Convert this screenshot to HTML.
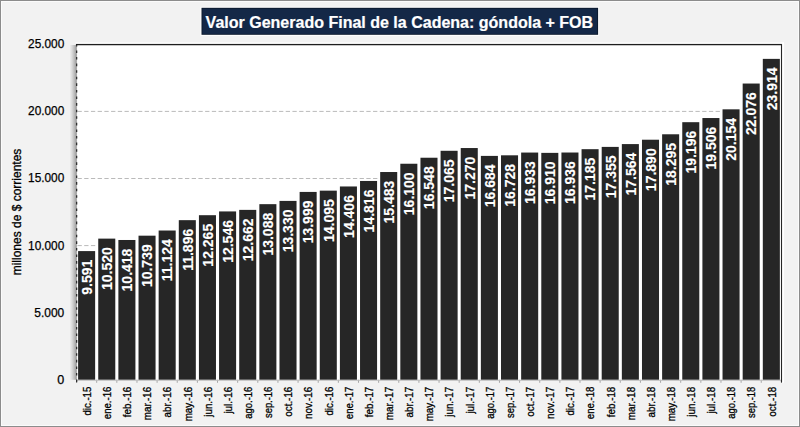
<!DOCTYPE html><html><head><meta charset="utf-8"><style>html,body{margin:0;padding:0;background:#f2f2f2;}svg{display:block}text{font-family:"Liberation Sans",sans-serif}</style></head><body>
<svg width="800" height="427" viewBox="0 0 800 427">
<defs><linearGradient id="sh" x1="0" x2="1" y1="0" y2="0"><stop offset="0" stop-color="#f2f2f2"/><stop offset="0.35" stop-color="#dadada"/><stop offset="0.7" stop-color="#bababa"/><stop offset="1" stop-color="#989898"/></linearGradient></defs>
<rect x="0" y="0" width="800" height="427" fill="#f2f2f2"/>
<rect x="0.5" y="0.5" width="799" height="426" fill="none" stroke="#8c8c8c" stroke-width="1"/>
<rect x="1.5" y="1.5" width="797" height="424" fill="none" stroke="#fbfbfb" stroke-width="1"/>
<rect x="69.55" y="45" width="7" height="334.80" fill="url(#sh)"/>
<rect x="76.55" y="44.30" width="704.85" height="335.50" fill="#ffffff"/>
<line x1="76.55" y1="312.70" x2="781.40" y2="312.70" stroke="#bababa" stroke-width="1" stroke-dasharray="4.3 2.417" stroke-dashoffset="5.767"/>
<line x1="76.55" y1="245.60" x2="781.40" y2="245.60" stroke="#bababa" stroke-width="1" stroke-dasharray="4.3 2.417" stroke-dashoffset="5.767"/>
<line x1="76.55" y1="178.50" x2="781.40" y2="178.50" stroke="#bababa" stroke-width="1" stroke-dasharray="4.3 2.417" stroke-dashoffset="5.767"/>
<line x1="76.55" y1="111.40" x2="781.40" y2="111.40" stroke="#bababa" stroke-width="1" stroke-dasharray="4.3 2.417" stroke-dashoffset="5.767"/>
<rect x="76.55" y="249.89" width="20.14" height="129.91" fill="#ffffff"/>
<rect x="96.69" y="237.42" width="20.14" height="142.38" fill="#ffffff"/>
<rect x="116.83" y="238.79" width="20.14" height="141.01" fill="#ffffff"/>
<rect x="136.97" y="234.48" width="20.14" height="145.32" fill="#ffffff"/>
<rect x="157.10" y="229.32" width="20.14" height="150.48" fill="#ffffff"/>
<rect x="177.24" y="218.96" width="20.14" height="160.84" fill="#ffffff"/>
<rect x="197.38" y="214.00" width="20.14" height="165.80" fill="#ffffff"/>
<rect x="217.52" y="210.23" width="20.14" height="169.57" fill="#ffffff"/>
<rect x="237.66" y="208.68" width="20.14" height="171.12" fill="#ffffff"/>
<rect x="257.80" y="202.96" width="20.14" height="176.84" fill="#ffffff"/>
<rect x="277.94" y="199.71" width="20.14" height="180.09" fill="#ffffff"/>
<rect x="298.07" y="190.73" width="20.14" height="189.07" fill="#ffffff"/>
<rect x="318.21" y="189.45" width="20.14" height="190.35" fill="#ffffff"/>
<rect x="338.35" y="185.27" width="20.14" height="194.53" fill="#ffffff"/>
<rect x="358.49" y="179.77" width="20.14" height="200.03" fill="#ffffff"/>
<rect x="378.63" y="170.82" width="20.14" height="208.98" fill="#ffffff"/>
<rect x="398.77" y="162.54" width="20.14" height="217.26" fill="#ffffff"/>
<rect x="418.91" y="156.53" width="20.14" height="223.27" fill="#ffffff"/>
<rect x="439.04" y="149.59" width="20.14" height="230.21" fill="#ffffff"/>
<rect x="459.18" y="146.84" width="20.14" height="232.96" fill="#ffffff"/>
<rect x="479.32" y="154.70" width="20.14" height="225.10" fill="#ffffff"/>
<rect x="499.46" y="154.11" width="20.14" height="225.69" fill="#ffffff"/>
<rect x="519.60" y="151.36" width="20.14" height="228.44" fill="#ffffff"/>
<rect x="539.74" y="151.67" width="20.14" height="228.13" fill="#ffffff"/>
<rect x="559.88" y="151.32" width="20.14" height="228.48" fill="#ffffff"/>
<rect x="580.01" y="147.98" width="20.14" height="231.82" fill="#ffffff"/>
<rect x="600.15" y="145.70" width="20.14" height="234.10" fill="#ffffff"/>
<rect x="620.29" y="142.89" width="20.14" height="236.91" fill="#ffffff"/>
<rect x="640.43" y="138.52" width="20.14" height="241.28" fill="#ffffff"/>
<rect x="660.57" y="133.08" width="20.14" height="246.72" fill="#ffffff"/>
<rect x="680.71" y="120.99" width="20.14" height="258.81" fill="#ffffff"/>
<rect x="700.85" y="116.83" width="20.14" height="262.97" fill="#ffffff"/>
<rect x="720.98" y="108.13" width="20.14" height="271.67" fill="#ffffff"/>
<rect x="741.12" y="82.34" width="20.14" height="297.46" fill="#ffffff"/>
<rect x="761.26" y="57.67" width="20.14" height="322.13" fill="#ffffff"/>
<rect x="78.10" y="251.09" width="17.04" height="128.71" fill="#262626"/>
<rect x="98.24" y="238.62" width="17.04" height="141.18" fill="#262626"/>
<rect x="118.38" y="239.99" width="17.04" height="139.81" fill="#262626"/>
<rect x="138.52" y="235.68" width="17.04" height="144.12" fill="#262626"/>
<rect x="158.65" y="230.52" width="17.04" height="149.28" fill="#262626"/>
<rect x="178.79" y="220.16" width="17.04" height="159.64" fill="#262626"/>
<rect x="198.93" y="215.20" width="17.04" height="164.60" fill="#262626"/>
<rect x="219.07" y="211.43" width="17.04" height="168.37" fill="#262626"/>
<rect x="239.21" y="209.88" width="17.04" height="169.92" fill="#262626"/>
<rect x="259.35" y="204.16" width="17.04" height="175.64" fill="#262626"/>
<rect x="279.49" y="200.91" width="17.04" height="178.89" fill="#262626"/>
<rect x="299.62" y="191.93" width="17.04" height="187.87" fill="#262626"/>
<rect x="319.76" y="190.65" width="17.04" height="189.15" fill="#262626"/>
<rect x="339.90" y="186.47" width="17.04" height="193.33" fill="#262626"/>
<rect x="360.04" y="180.97" width="17.04" height="198.83" fill="#262626"/>
<rect x="380.18" y="172.02" width="17.04" height="207.78" fill="#262626"/>
<rect x="400.32" y="163.74" width="17.04" height="216.06" fill="#262626"/>
<rect x="420.46" y="157.73" width="17.04" height="222.07" fill="#262626"/>
<rect x="440.59" y="150.79" width="17.04" height="229.01" fill="#262626"/>
<rect x="460.73" y="148.04" width="17.04" height="231.76" fill="#262626"/>
<rect x="480.87" y="155.90" width="17.04" height="223.90" fill="#262626"/>
<rect x="501.01" y="155.31" width="17.04" height="224.49" fill="#262626"/>
<rect x="521.15" y="152.56" width="17.04" height="227.24" fill="#262626"/>
<rect x="541.29" y="152.87" width="17.04" height="226.93" fill="#262626"/>
<rect x="561.43" y="152.52" width="17.04" height="227.28" fill="#262626"/>
<rect x="581.56" y="149.18" width="17.04" height="230.62" fill="#262626"/>
<rect x="601.70" y="146.90" width="17.04" height="232.90" fill="#262626"/>
<rect x="621.84" y="144.09" width="17.04" height="235.71" fill="#262626"/>
<rect x="641.98" y="139.72" width="17.04" height="240.08" fill="#262626"/>
<rect x="662.12" y="134.28" width="17.04" height="245.52" fill="#262626"/>
<rect x="682.26" y="122.19" width="17.04" height="257.61" fill="#262626"/>
<rect x="702.40" y="118.03" width="17.04" height="261.77" fill="#262626"/>
<rect x="722.53" y="109.33" width="17.04" height="270.47" fill="#262626"/>
<rect x="742.67" y="83.54" width="17.04" height="296.26" fill="#262626"/>
<rect x="762.81" y="58.87" width="17.04" height="320.93" fill="#262626"/>
<line x1="76.55" y1="379.80" x2="76.55" y2="382.80" stroke="#a6a6a6" stroke-width="1"/>
<line x1="96.69" y1="379.80" x2="96.69" y2="382.80" stroke="#a6a6a6" stroke-width="1"/>
<line x1="116.83" y1="379.80" x2="116.83" y2="382.80" stroke="#a6a6a6" stroke-width="1"/>
<line x1="136.97" y1="379.80" x2="136.97" y2="382.80" stroke="#a6a6a6" stroke-width="1"/>
<line x1="157.10" y1="379.80" x2="157.10" y2="382.80" stroke="#a6a6a6" stroke-width="1"/>
<line x1="177.24" y1="379.80" x2="177.24" y2="382.80" stroke="#a6a6a6" stroke-width="1"/>
<line x1="197.38" y1="379.80" x2="197.38" y2="382.80" stroke="#a6a6a6" stroke-width="1"/>
<line x1="217.52" y1="379.80" x2="217.52" y2="382.80" stroke="#a6a6a6" stroke-width="1"/>
<line x1="237.66" y1="379.80" x2="237.66" y2="382.80" stroke="#a6a6a6" stroke-width="1"/>
<line x1="257.80" y1="379.80" x2="257.80" y2="382.80" stroke="#a6a6a6" stroke-width="1"/>
<line x1="277.94" y1="379.80" x2="277.94" y2="382.80" stroke="#a6a6a6" stroke-width="1"/>
<line x1="298.07" y1="379.80" x2="298.07" y2="382.80" stroke="#a6a6a6" stroke-width="1"/>
<line x1="318.21" y1="379.80" x2="318.21" y2="382.80" stroke="#a6a6a6" stroke-width="1"/>
<line x1="338.35" y1="379.80" x2="338.35" y2="382.80" stroke="#a6a6a6" stroke-width="1"/>
<line x1="358.49" y1="379.80" x2="358.49" y2="382.80" stroke="#a6a6a6" stroke-width="1"/>
<line x1="378.63" y1="379.80" x2="378.63" y2="382.80" stroke="#a6a6a6" stroke-width="1"/>
<line x1="398.77" y1="379.80" x2="398.77" y2="382.80" stroke="#a6a6a6" stroke-width="1"/>
<line x1="418.91" y1="379.80" x2="418.91" y2="382.80" stroke="#a6a6a6" stroke-width="1"/>
<line x1="439.04" y1="379.80" x2="439.04" y2="382.80" stroke="#a6a6a6" stroke-width="1"/>
<line x1="459.18" y1="379.80" x2="459.18" y2="382.80" stroke="#a6a6a6" stroke-width="1"/>
<line x1="479.32" y1="379.80" x2="479.32" y2="382.80" stroke="#a6a6a6" stroke-width="1"/>
<line x1="499.46" y1="379.80" x2="499.46" y2="382.80" stroke="#a6a6a6" stroke-width="1"/>
<line x1="519.60" y1="379.80" x2="519.60" y2="382.80" stroke="#a6a6a6" stroke-width="1"/>
<line x1="539.74" y1="379.80" x2="539.74" y2="382.80" stroke="#a6a6a6" stroke-width="1"/>
<line x1="559.88" y1="379.80" x2="559.88" y2="382.80" stroke="#a6a6a6" stroke-width="1"/>
<line x1="580.01" y1="379.80" x2="580.01" y2="382.80" stroke="#a6a6a6" stroke-width="1"/>
<line x1="600.15" y1="379.80" x2="600.15" y2="382.80" stroke="#a6a6a6" stroke-width="1"/>
<line x1="620.29" y1="379.80" x2="620.29" y2="382.80" stroke="#a6a6a6" stroke-width="1"/>
<line x1="640.43" y1="379.80" x2="640.43" y2="382.80" stroke="#a6a6a6" stroke-width="1"/>
<line x1="660.57" y1="379.80" x2="660.57" y2="382.80" stroke="#a6a6a6" stroke-width="1"/>
<line x1="680.71" y1="379.80" x2="680.71" y2="382.80" stroke="#a6a6a6" stroke-width="1"/>
<line x1="700.85" y1="379.80" x2="700.85" y2="382.80" stroke="#a6a6a6" stroke-width="1"/>
<line x1="720.98" y1="379.80" x2="720.98" y2="382.80" stroke="#a6a6a6" stroke-width="1"/>
<line x1="741.12" y1="379.80" x2="741.12" y2="382.80" stroke="#a6a6a6" stroke-width="1"/>
<line x1="761.26" y1="379.80" x2="761.26" y2="382.80" stroke="#a6a6a6" stroke-width="1"/>
<line x1="781.40" y1="379.80" x2="781.40" y2="382.80" stroke="#a6a6a6" stroke-width="1"/>
<line x1="76.55" y1="380.30" x2="781.40" y2="380.30" stroke="#bfbfbf" stroke-width="1"/>
<line x1="75.95" y1="44.5" x2="782" y2="44.5" stroke="#1e1e1e" stroke-width="1.3"/>
<line x1="783.1" y1="42.5" x2="783.1" y2="382.80" stroke="#ffffff" stroke-width="1.8"/>
<line x1="75.55" y1="43.1" x2="784" y2="43.1" stroke="#ffffff" stroke-width="1.4"/>
<line x1="781.5" y1="44" x2="781.5" y2="382.50" stroke="#262626" stroke-width="1.1"/>
<line x1="76.55" y1="45" x2="76.55" y2="382.80" stroke="#a8a8a8" stroke-width="1"/>
<line x1="76.70" y1="44.3" x2="76.70" y2="382.80" stroke="#1a1a1a" stroke-width="1.1" stroke-dasharray="2.6 3.984" stroke-dashoffset="0.48"/>
<text transform="translate(91.92 259.69) rotate(-90)" text-anchor="end" font-size="14.0" font-weight="bold" fill="#ffffff" stroke="#ffffff" stroke-width="0.15">9.591</text>
<text transform="translate(112.06 247.22) rotate(-90)" text-anchor="end" font-size="14.0" font-weight="bold" fill="#ffffff" stroke="#ffffff" stroke-width="0.15">10.520</text>
<text transform="translate(132.20 248.59) rotate(-90)" text-anchor="end" font-size="14.0" font-weight="bold" fill="#ffffff" stroke="#ffffff" stroke-width="0.15">10.418</text>
<text transform="translate(152.34 244.28) rotate(-90)" text-anchor="end" font-size="14.0" font-weight="bold" fill="#ffffff" stroke="#ffffff" stroke-width="0.15">10.739</text>
<text transform="translate(172.47 239.12) rotate(-90)" text-anchor="end" font-size="14.0" font-weight="bold" fill="#ffffff" stroke="#ffffff" stroke-width="0.15">11.124</text>
<text transform="translate(192.61 228.76) rotate(-90)" text-anchor="end" font-size="14.0" font-weight="bold" fill="#ffffff" stroke="#ffffff" stroke-width="0.15">11.896</text>
<text transform="translate(212.75 223.80) rotate(-90)" text-anchor="end" font-size="14.0" font-weight="bold" fill="#ffffff" stroke="#ffffff" stroke-width="0.15">12.265</text>
<text transform="translate(232.89 220.03) rotate(-90)" text-anchor="end" font-size="14.0" font-weight="bold" fill="#ffffff" stroke="#ffffff" stroke-width="0.15">12.546</text>
<text transform="translate(253.03 218.48) rotate(-90)" text-anchor="end" font-size="14.0" font-weight="bold" fill="#ffffff" stroke="#ffffff" stroke-width="0.15">12.662</text>
<text transform="translate(273.17 212.76) rotate(-90)" text-anchor="end" font-size="14.0" font-weight="bold" fill="#ffffff" stroke="#ffffff" stroke-width="0.15">13.088</text>
<text transform="translate(293.31 209.51) rotate(-90)" text-anchor="end" font-size="14.0" font-weight="bold" fill="#ffffff" stroke="#ffffff" stroke-width="0.15">13.330</text>
<text transform="translate(313.44 200.53) rotate(-90)" text-anchor="end" font-size="14.0" font-weight="bold" fill="#ffffff" stroke="#ffffff" stroke-width="0.15">13.999</text>
<text transform="translate(333.58 199.25) rotate(-90)" text-anchor="end" font-size="14.0" font-weight="bold" fill="#ffffff" stroke="#ffffff" stroke-width="0.15">14.095</text>
<text transform="translate(353.72 195.07) rotate(-90)" text-anchor="end" font-size="14.0" font-weight="bold" fill="#ffffff" stroke="#ffffff" stroke-width="0.15">14.406</text>
<text transform="translate(373.86 189.57) rotate(-90)" text-anchor="end" font-size="14.0" font-weight="bold" fill="#ffffff" stroke="#ffffff" stroke-width="0.15">14.816</text>
<text transform="translate(394.00 180.62) rotate(-90)" text-anchor="end" font-size="14.0" font-weight="bold" fill="#ffffff" stroke="#ffffff" stroke-width="0.15">15.483</text>
<text transform="translate(414.14 172.34) rotate(-90)" text-anchor="end" font-size="14.0" font-weight="bold" fill="#ffffff" stroke="#ffffff" stroke-width="0.15">16.100</text>
<text transform="translate(434.28 166.33) rotate(-90)" text-anchor="end" font-size="14.0" font-weight="bold" fill="#ffffff" stroke="#ffffff" stroke-width="0.15">16.548</text>
<text transform="translate(454.41 159.39) rotate(-90)" text-anchor="end" font-size="14.0" font-weight="bold" fill="#ffffff" stroke="#ffffff" stroke-width="0.15">17.065</text>
<text transform="translate(474.55 156.64) rotate(-90)" text-anchor="end" font-size="14.0" font-weight="bold" fill="#ffffff" stroke="#ffffff" stroke-width="0.15">17.270</text>
<text transform="translate(494.69 164.50) rotate(-90)" text-anchor="end" font-size="14.0" font-weight="bold" fill="#ffffff" stroke="#ffffff" stroke-width="0.15">16.684</text>
<text transform="translate(514.83 163.91) rotate(-90)" text-anchor="end" font-size="14.0" font-weight="bold" fill="#ffffff" stroke="#ffffff" stroke-width="0.15">16.728</text>
<text transform="translate(534.97 161.16) rotate(-90)" text-anchor="end" font-size="14.0" font-weight="bold" fill="#ffffff" stroke="#ffffff" stroke-width="0.15">16.933</text>
<text transform="translate(555.11 161.47) rotate(-90)" text-anchor="end" font-size="14.0" font-weight="bold" fill="#ffffff" stroke="#ffffff" stroke-width="0.15">16.910</text>
<text transform="translate(575.24 161.12) rotate(-90)" text-anchor="end" font-size="14.0" font-weight="bold" fill="#ffffff" stroke="#ffffff" stroke-width="0.15">16.936</text>
<text transform="translate(595.38 157.78) rotate(-90)" text-anchor="end" font-size="14.0" font-weight="bold" fill="#ffffff" stroke="#ffffff" stroke-width="0.15">17.185</text>
<text transform="translate(615.52 155.50) rotate(-90)" text-anchor="end" font-size="14.0" font-weight="bold" fill="#ffffff" stroke="#ffffff" stroke-width="0.15">17.355</text>
<text transform="translate(635.66 152.69) rotate(-90)" text-anchor="end" font-size="14.0" font-weight="bold" fill="#ffffff" stroke="#ffffff" stroke-width="0.15">17.564</text>
<text transform="translate(655.80 148.32) rotate(-90)" text-anchor="end" font-size="14.0" font-weight="bold" fill="#ffffff" stroke="#ffffff" stroke-width="0.15">17.890</text>
<text transform="translate(675.94 142.88) rotate(-90)" text-anchor="end" font-size="14.0" font-weight="bold" fill="#ffffff" stroke="#ffffff" stroke-width="0.15">18.295</text>
<text transform="translate(696.08 130.79) rotate(-90)" text-anchor="end" font-size="14.0" font-weight="bold" fill="#ffffff" stroke="#ffffff" stroke-width="0.15">19.196</text>
<text transform="translate(716.21 126.63) rotate(-90)" text-anchor="end" font-size="14.0" font-weight="bold" fill="#ffffff" stroke="#ffffff" stroke-width="0.15">19.506</text>
<text transform="translate(736.35 117.93) rotate(-90)" text-anchor="end" font-size="14.0" font-weight="bold" fill="#ffffff" stroke="#ffffff" stroke-width="0.15">20.154</text>
<text transform="translate(756.49 92.14) rotate(-90)" text-anchor="end" font-size="14.0" font-weight="bold" fill="#ffffff" stroke="#ffffff" stroke-width="0.15">22.076</text>
<text transform="translate(776.63 67.47) rotate(-90)" text-anchor="end" font-size="14.0" font-weight="bold" fill="#ffffff" stroke="#ffffff" stroke-width="0.15">23.914</text>
<text transform="translate(90.92 386.70) rotate(-90)" text-anchor="end" font-size="10.6" fill="#000" stroke="#000" stroke-width="0.3" textLength="28.86" lengthAdjust="spacingAndGlyphs">dic.-15</text>
<text transform="translate(111.06 386.70) rotate(-90)" text-anchor="end" font-size="10.6" fill="#000" stroke="#000" stroke-width="0.3" textLength="32.48" lengthAdjust="spacingAndGlyphs">ene.-16</text>
<text transform="translate(131.20 386.70) rotate(-90)" text-anchor="end" font-size="10.6" fill="#000" stroke="#000" stroke-width="0.3" textLength="30.45" lengthAdjust="spacingAndGlyphs">feb.-16</text>
<text transform="translate(151.34 386.70) rotate(-90)" text-anchor="end" font-size="10.6" fill="#000" stroke="#000" stroke-width="0.3" textLength="33.59" lengthAdjust="spacingAndGlyphs">mar.-16</text>
<text transform="translate(171.47 386.70) rotate(-90)" text-anchor="end" font-size="10.6" fill="#000" stroke="#000" stroke-width="0.3" textLength="30.71" lengthAdjust="spacingAndGlyphs">abr.-16</text>
<text transform="translate(191.61 386.70) rotate(-90)" text-anchor="end" font-size="10.6" fill="#000" stroke="#000" stroke-width="0.3" textLength="34.68" lengthAdjust="spacingAndGlyphs">may.-16</text>
<text transform="translate(211.75 386.70) rotate(-90)" text-anchor="end" font-size="10.6" fill="#000" stroke="#000" stroke-width="0.3" textLength="30.04" lengthAdjust="spacingAndGlyphs">jun.-16</text>
<text transform="translate(231.89 386.70) rotate(-90)" text-anchor="end" font-size="10.6" fill="#000" stroke="#000" stroke-width="0.3" textLength="26.93" lengthAdjust="spacingAndGlyphs">jul.-16</text>
<text transform="translate(252.03 386.70) rotate(-90)" text-anchor="end" font-size="10.6" fill="#000" stroke="#000" stroke-width="0.3" textLength="32.01" lengthAdjust="spacingAndGlyphs">ago.-16</text>
<text transform="translate(272.17 386.70) rotate(-90)" text-anchor="end" font-size="10.6" fill="#000" stroke="#000" stroke-width="0.3" textLength="31.35" lengthAdjust="spacingAndGlyphs">sep.-16</text>
<text transform="translate(292.31 386.70) rotate(-90)" text-anchor="end" font-size="10.6" fill="#000" stroke="#000" stroke-width="0.3" textLength="30.00" lengthAdjust="spacingAndGlyphs">oct.-16</text>
<text transform="translate(312.44 386.70) rotate(-90)" text-anchor="end" font-size="10.6" fill="#000" stroke="#000" stroke-width="0.3" textLength="32.30" lengthAdjust="spacingAndGlyphs">nov.-16</text>
<text transform="translate(332.58 386.70) rotate(-90)" text-anchor="end" font-size="10.6" fill="#000" stroke="#000" stroke-width="0.3" textLength="28.86" lengthAdjust="spacingAndGlyphs">dic.-16</text>
<text transform="translate(352.72 386.70) rotate(-90)" text-anchor="end" font-size="10.6" fill="#000" stroke="#000" stroke-width="0.3" textLength="32.48" lengthAdjust="spacingAndGlyphs">ene.-17</text>
<text transform="translate(372.86 386.70) rotate(-90)" text-anchor="end" font-size="10.6" fill="#000" stroke="#000" stroke-width="0.3" textLength="30.45" lengthAdjust="spacingAndGlyphs">feb.-17</text>
<text transform="translate(393.00 386.70) rotate(-90)" text-anchor="end" font-size="10.6" fill="#000" stroke="#000" stroke-width="0.3" textLength="33.59" lengthAdjust="spacingAndGlyphs">mar.-17</text>
<text transform="translate(413.14 386.70) rotate(-90)" text-anchor="end" font-size="10.6" fill="#000" stroke="#000" stroke-width="0.3" textLength="30.71" lengthAdjust="spacingAndGlyphs">abr.-17</text>
<text transform="translate(433.28 386.70) rotate(-90)" text-anchor="end" font-size="10.6" fill="#000" stroke="#000" stroke-width="0.3" textLength="34.68" lengthAdjust="spacingAndGlyphs">may.-17</text>
<text transform="translate(453.41 386.70) rotate(-90)" text-anchor="end" font-size="10.6" fill="#000" stroke="#000" stroke-width="0.3" textLength="30.04" lengthAdjust="spacingAndGlyphs">jun.-17</text>
<text transform="translate(473.55 386.70) rotate(-90)" text-anchor="end" font-size="10.6" fill="#000" stroke="#000" stroke-width="0.3" textLength="26.93" lengthAdjust="spacingAndGlyphs">jul.-17</text>
<text transform="translate(493.69 386.70) rotate(-90)" text-anchor="end" font-size="10.6" fill="#000" stroke="#000" stroke-width="0.3" textLength="32.01" lengthAdjust="spacingAndGlyphs">ago.-17</text>
<text transform="translate(513.83 386.70) rotate(-90)" text-anchor="end" font-size="10.6" fill="#000" stroke="#000" stroke-width="0.3" textLength="31.35" lengthAdjust="spacingAndGlyphs">sep.-17</text>
<text transform="translate(533.97 386.70) rotate(-90)" text-anchor="end" font-size="10.6" fill="#000" stroke="#000" stroke-width="0.3" textLength="30.00" lengthAdjust="spacingAndGlyphs">oct.-17</text>
<text transform="translate(554.11 386.70) rotate(-90)" text-anchor="end" font-size="10.6" fill="#000" stroke="#000" stroke-width="0.3" textLength="32.30" lengthAdjust="spacingAndGlyphs">nov.-17</text>
<text transform="translate(574.24 386.70) rotate(-90)" text-anchor="end" font-size="10.6" fill="#000" stroke="#000" stroke-width="0.3" textLength="28.86" lengthAdjust="spacingAndGlyphs">dic.-17</text>
<text transform="translate(594.38 386.70) rotate(-90)" text-anchor="end" font-size="10.6" fill="#000" stroke="#000" stroke-width="0.3" textLength="32.48" lengthAdjust="spacingAndGlyphs">ene.-18</text>
<text transform="translate(614.52 386.70) rotate(-90)" text-anchor="end" font-size="10.6" fill="#000" stroke="#000" stroke-width="0.3" textLength="30.45" lengthAdjust="spacingAndGlyphs">feb.-18</text>
<text transform="translate(634.66 386.70) rotate(-90)" text-anchor="end" font-size="10.6" fill="#000" stroke="#000" stroke-width="0.3" textLength="33.59" lengthAdjust="spacingAndGlyphs">mar.-18</text>
<text transform="translate(654.80 386.70) rotate(-90)" text-anchor="end" font-size="10.6" fill="#000" stroke="#000" stroke-width="0.3" textLength="30.71" lengthAdjust="spacingAndGlyphs">abr.-18</text>
<text transform="translate(674.94 386.70) rotate(-90)" text-anchor="end" font-size="10.6" fill="#000" stroke="#000" stroke-width="0.3" textLength="34.68" lengthAdjust="spacingAndGlyphs">may.-18</text>
<text transform="translate(695.08 386.70) rotate(-90)" text-anchor="end" font-size="10.6" fill="#000" stroke="#000" stroke-width="0.3" textLength="30.04" lengthAdjust="spacingAndGlyphs">jun.-18</text>
<text transform="translate(715.21 386.70) rotate(-90)" text-anchor="end" font-size="10.6" fill="#000" stroke="#000" stroke-width="0.3" textLength="26.93" lengthAdjust="spacingAndGlyphs">jul.-18</text>
<text transform="translate(735.35 386.70) rotate(-90)" text-anchor="end" font-size="10.6" fill="#000" stroke="#000" stroke-width="0.3" textLength="32.01" lengthAdjust="spacingAndGlyphs">ago.-18</text>
<text transform="translate(755.49 386.70) rotate(-90)" text-anchor="end" font-size="10.6" fill="#000" stroke="#000" stroke-width="0.3" textLength="31.35" lengthAdjust="spacingAndGlyphs">sep.-18</text>
<text transform="translate(775.63 386.70) rotate(-90)" text-anchor="end" font-size="10.6" fill="#000" stroke="#000" stroke-width="0.3" textLength="30.00" lengthAdjust="spacingAndGlyphs">oct.-18</text>
<text x="64.3" y="383.70" text-anchor="end" font-size="12.3" fill="#000" stroke="#000" stroke-width="0.25" textLength="7.0" lengthAdjust="spacingAndGlyphs">0</text>
<text x="64.3" y="316.60" text-anchor="end" font-size="12.3" fill="#000" stroke="#000" stroke-width="0.25" textLength="30.0" lengthAdjust="spacingAndGlyphs">5.000</text>
<text x="64.3" y="249.50" text-anchor="end" font-size="12.3" fill="#000" stroke="#000" stroke-width="0.25" textLength="36.2" lengthAdjust="spacingAndGlyphs">10.000</text>
<text x="64.3" y="182.40" text-anchor="end" font-size="12.3" fill="#000" stroke="#000" stroke-width="0.25" textLength="36.2" lengthAdjust="spacingAndGlyphs">15.000</text>
<text x="64.3" y="115.30" text-anchor="end" font-size="12.3" fill="#000" stroke="#000" stroke-width="0.25" textLength="36.2" lengthAdjust="spacingAndGlyphs">20.000</text>
<text x="64.3" y="48.20" text-anchor="end" font-size="12.3" fill="#000" stroke="#000" stroke-width="0.25" textLength="36.2" lengthAdjust="spacingAndGlyphs">25.000</text>
<text transform="translate(20.7 275.3) rotate(-90)" font-size="12.2" fill="#000" stroke="#000" stroke-width="0.3" textLength="126.6" lengthAdjust="spacingAndGlyphs">millones de $ corrientes</text>
<rect x="200.5" y="6.8" width="398.6" height="29" fill="#ffffff"/>
<rect x="201.5" y="7.8" width="396.6" height="27" fill="#0b182b"/>
<rect x="202.4" y="8.7" width="394.8" height="25.2" fill="#142847"/>
<text x="205.6" y="27.8" font-size="16" font-weight="bold" fill="#ffffff" stroke="#ffffff" stroke-width="0.2" textLength="387.5" lengthAdjust="spacingAndGlyphs">Valor Generado Final de la Cadena: góndola + FOB</text>
</svg></body></html>
